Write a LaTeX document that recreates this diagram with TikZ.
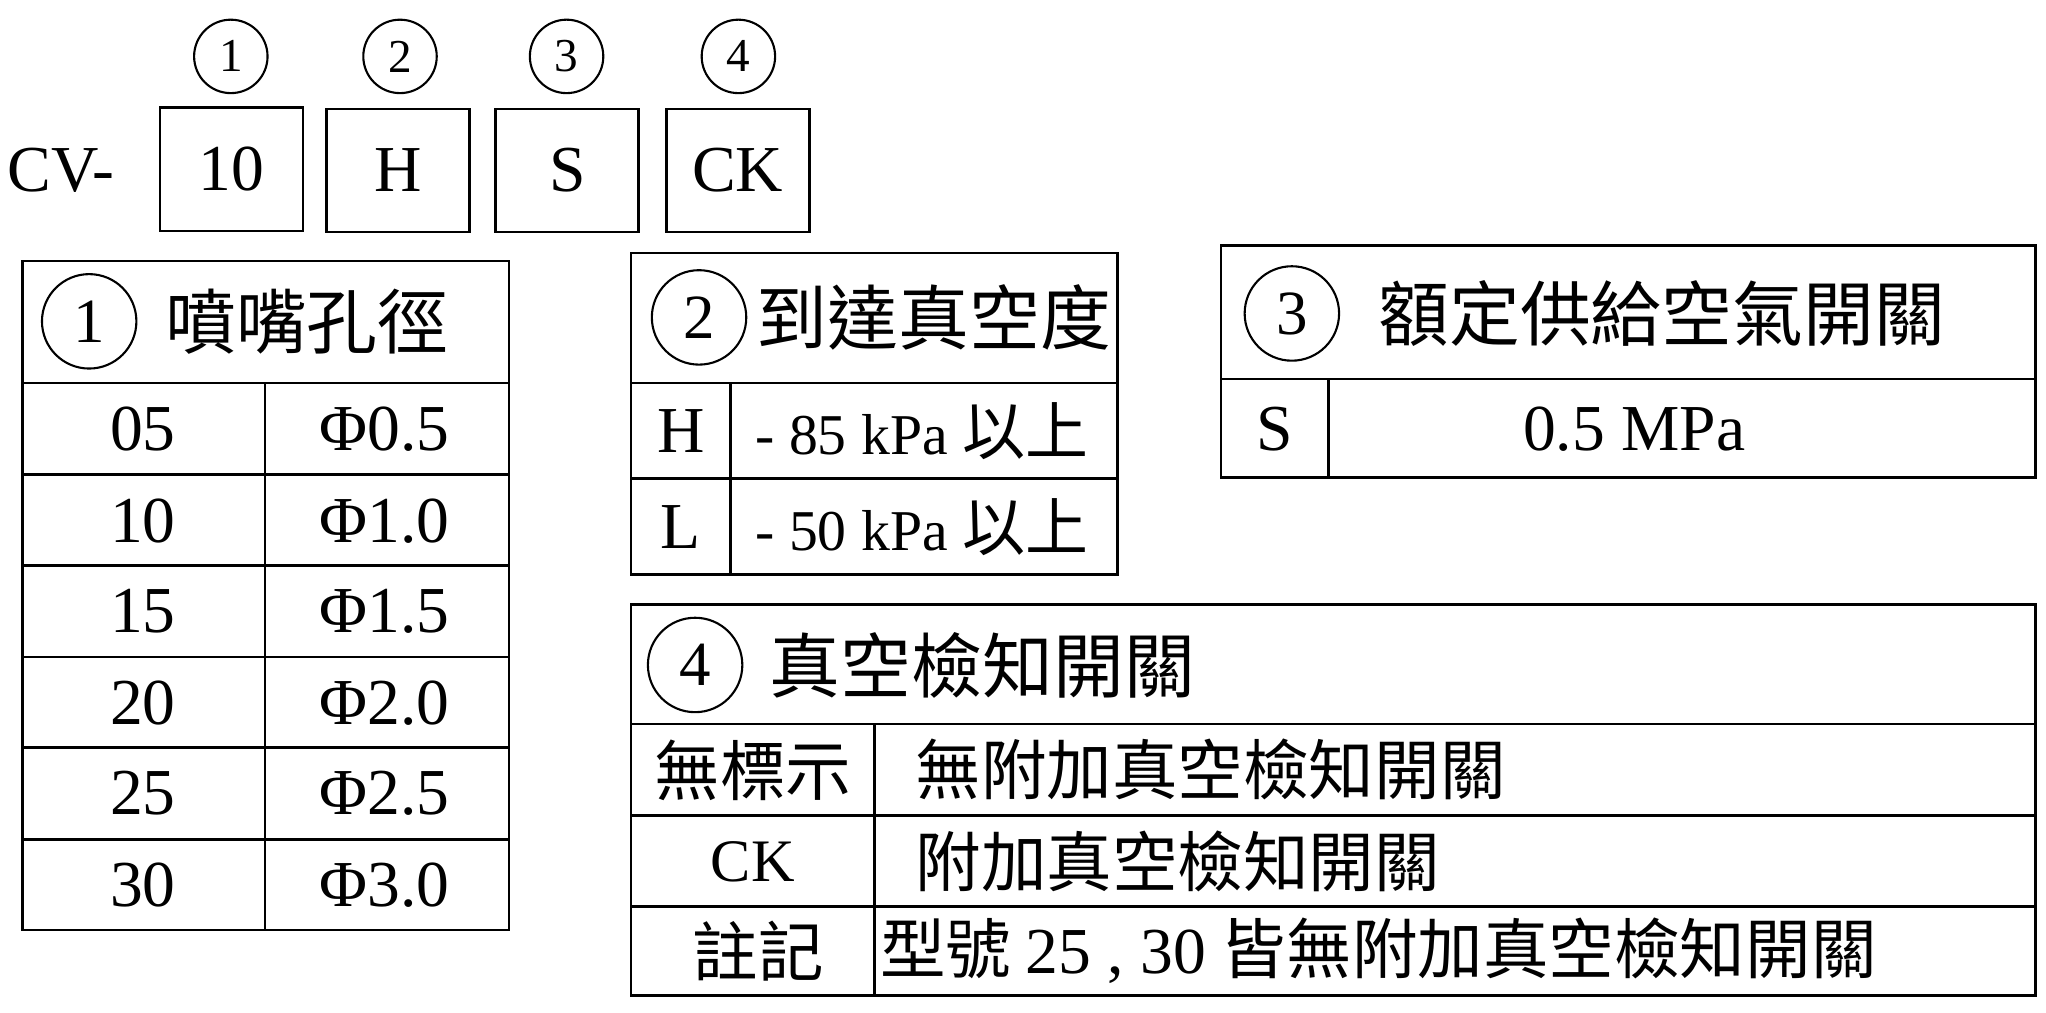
\documentclass[tikz,border=0pt]{standalone}
\usepackage{fontspec}
\setmainfont{Liberation Serif}
\newfontfamily\cjk{Noto Sans CJK TC}
\begin{document}
\begin{tikzpicture}[x=1pt,y=-1pt,line width=2pt,
  cnum/.style={circle,draw,line width=1.6pt,minimum size=#1,inner sep=0pt,font=\fontsize{36}{36}\selectfont},
  lat/.style={inner sep=0pt,font=\fontsize{50}{50}\selectfont},
  cj/.style={inner sep=0pt,font=\cjk\fontsize{50}{50}\selectfont},
  cjl/.style={inner sep=0pt,font=\cjk\fontsize{54}{54}\selectfont}]
\useasboundingbox (0,0) rectangle (1560,772);
% code line
\node[lat,anchor=west] (cv) at (5,130) {CV-};
\foreach \n/\x/\y/\t in {a/122/82/10,b/249/83/H,c/378/83/S,d/508/83/CK}{
  \draw (\x,\y) rectangle ++(109,94);
  \node[lat] (box\n) at (\x+54.5,\y+47) {\t};
}
\node[cnum=56pt] (c1) at (176,43) {1};
\node[cnum=56pt] (c2) at (305,43) {2};
\node[cnum=56pt] (c3) at (432,43) {3};
\node[cnum=56pt] (c4) at (563,43) {4};
% table 1
\draw (17,199) rectangle (388,709);
\foreach \y in {292,362,431,501,570,640} \draw (17,\y) -- (388,\y);
\draw (202,292) -- (202,709);
\node[cnum=72pt,font=\fontsize{48}{48}\selectfont] (t1c) at (68,245) {1};
\node[cjl,anchor=west] (t1h) at (125,245) {噴嘴孔徑};
\foreach \a/\b/\y in {05/0.5/327,10/1.0/397,15/1.5/466,20/2.0/536,25/2.5/605,30/3.0/675}{
  \node[lat] at (109,\y) {\a};
  \node[lat] at (293,\y) {Φ\b};
}
% table 2
\draw (481,193) rectangle (852,438);
\draw (481,292) -- (852,292);
\draw (481,365) -- (852,365);
\draw (557,292) -- (557,438);
\node[cnum=72pt,font=\fontsize{48}{48}\selectfont] (t2c) at (533,242) {2};
\node[cjl,anchor=west] (t2h) at (576,242) {到達真空度};
\node[lat] at (519,329) {H};
\node[lat] at (519,402) {L};
\node[lat,anchor=west,font=\fontsize{44}{44}\selectfont] at (575,329) {- 85 kPa {\cjk\fontsize{48}{48}\selectfont 以上}};
\node[lat,anchor=west,font=\fontsize{44}{44}\selectfont] at (575,402) {- 50 kPa {\cjk\fontsize{48}{48}\selectfont 以上}};
% table 3
\draw (931,187) rectangle (1552,364);
\draw (931,289) -- (1552,289);
\draw (1013,289) -- (1013,364);
\node[cnum=72pt,font=\fontsize{48}{48}\selectfont] (t3c) at (985,239) {3};
\node[cjl,anchor=west] (t3h) at (1050,239) {額定供給空氣開關};
\node[lat] at (972,327) {S};
\node[lat] at (1246,327) {0.5 MPa};
% table 4
\draw (481,461) rectangle (1552,759);
\foreach \y in {552,622,691} \draw (481,\y) -- (1552,\y);
\draw (667,552) -- (667,759);
\node[cnum=72pt,font=\fontsize{48}{48}\selectfont] (t4c) at (530,507) {4};
\node[cjl,anchor=west] (t4h) at (586,507) {真空檢知開關};
\node[cj] at (574,587) {無標示};
\node[lat,font=\fontsize{46}{46}\selectfont] at (574,657) {CK};
\node[cj] at (578,725) {註記};
\node[cj,anchor=west] at (697,587) {無附加真空檢知開關};
\node[cj,anchor=west] at (697,657) {附加真空檢知開關};
\node[cj,anchor=west] at (670,725) {型號 {\fontspec{Liberation Serif}25 , 30} 皆無附加真空檢知開關};
\end{tikzpicture}
\end{document}
